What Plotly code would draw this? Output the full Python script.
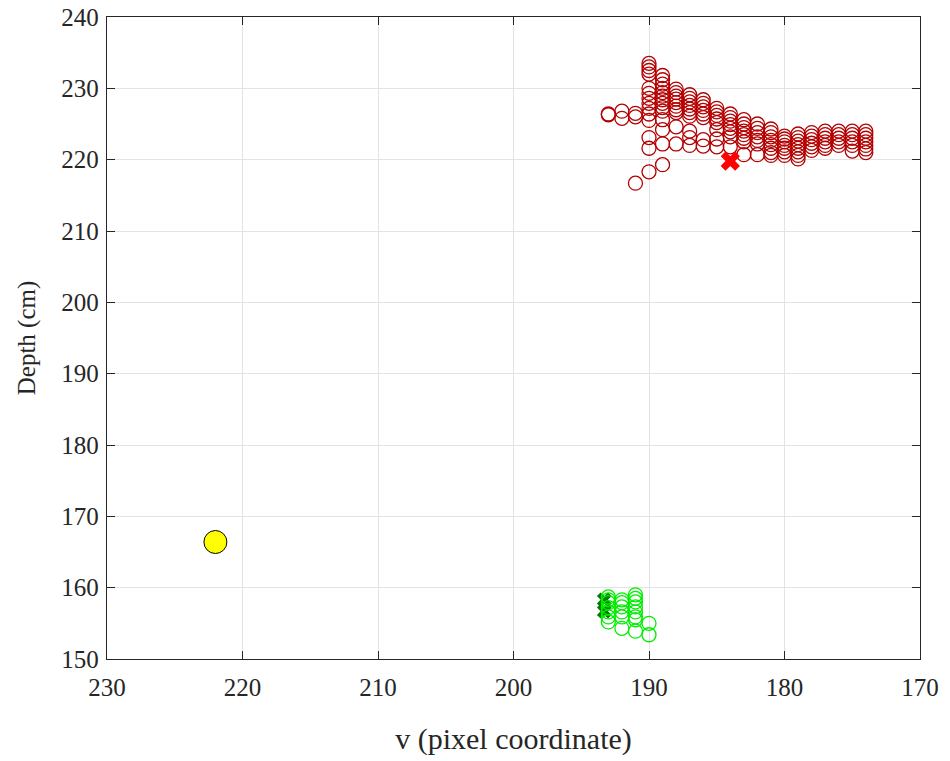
import plotly.graph_objects as go

# ---- data ----
red_cols = [193, 192, 191, 190, 189, 188, 187, 186, 185, 184,
            183, 182, 181, 180, 179, 178, 177, 176, 175, 174]
red_depths = [
    [226.4, 226.3],
    [226.8, 225.8],
    [226.5, 226.0, 216.7],
    [233.5, 233.0, 232.5, 232.0, 230.0, 229.3, 228.6, 227.9, 227.2, 226.4, 225.5, 223.1, 221.6, 218.3],
    [231.8, 231.2, 230.6, 230.0, 229.4, 228.9, 228.4, 227.9, 227.3, 226.8, 225.6, 224.2, 222.2, 219.3],
    [229.9, 229.4, 228.9, 228.5, 228.0, 227.5, 227.0, 226.6, 224.6, 222.2],
    [229.1, 228.6, 228.1, 227.6, 227.1, 226.6, 226.1, 224.0, 223.1, 222.0],
    [228.4, 227.9, 227.4, 226.9, 226.4, 225.9, 222.8, 221.9],
    [227.2, 226.7, 226.2, 225.7, 225.2, 224.2, 222.9, 221.8],
    [226.4, 225.9, 225.4, 224.9, 224.4, 223.9, 223.2, 221.8],
    [225.6, 225.0, 224.5, 224.0, 223.5, 223.0, 222.5, 220.7],
    [225.0, 224.4, 223.8, 223.2, 222.7, 222.2, 220.7],
    [224.3, 223.8, 223.2, 222.7, 222.1, 221.6, 221.0, 220.6],
    [223.3, 222.9, 222.5, 222.0, 221.6, 221.1, 220.6],
    [223.6, 223.1, 222.6, 222.1, 221.6, 221.1, 220.6, 220.1],
    [223.8, 223.3, 222.8, 222.3, 221.8, 221.3],
    [224.0, 223.5, 223.0, 222.5, 222.0, 221.6],
    [224.0, 223.5, 223.0, 222.5, 222.0],
    [224.0, 223.5, 223.0, 222.5, 222.0, 221.2],
    [224.0, 223.5, 223.0, 222.5, 222.0, 221.5, 221.0],
]

green_cols = [193, 192, 191, 190]
green_depths = [
    [158.7, 158.3, 157.9, 157.2, 156.6, 155.9, 155.2],
    [158.3, 157.9, 157.3, 156.6, 155.9, 154.3],
    [159.0, 158.5, 158.0, 157.3, 156.6, 155.9, 155.5, 153.9],
    [155.0, 153.4],
]

red_x_v = [184]
red_x_d = [219.8]
green_x_v = [193.3, 193.3]
green_x_d = [158.3, 156.7]
yellow_v = [222]
yellow_d = [166.4]

x_ticks = [230, 220, 210, 200, 190, 180, 170]
y_ticks = [150, 160, 170, 180, 190, 200, 210, 220, 230, 240]

# ---- flatten ----
rv, rd = [], []
for c, ds in zip(red_cols, red_depths):
    rv += [c] * len(ds)
    rd += ds
gv, gd = [], []
for c, ds in zip(green_cols, green_depths):
    gv += [c] * len(ds)
    gd += ds

fig = go.Figure()
fig.add_trace(go.Scatter(x=rv, y=rd, mode="markers",
                         marker=dict(symbol="circle-open", size=14, color="#b40000",
                                     line=dict(width=1.3, color="#b40000"))))
fig.add_trace(go.Scatter(x=red_x_v, y=red_x_d, mode="markers",
                         marker=dict(symbol="x", size=17, color="#ff0000",
                                     line=dict(width=0))))
fig.add_trace(go.Scatter(x=green_x_v, y=green_x_d, mode="markers",
                         marker=dict(symbol="x", size=13, color="#007a00",
                                     line=dict(width=0))))
fig.add_trace(go.Scatter(x=gv, y=gd, mode="markers",
                         marker=dict(symbol="circle-open", size=14, color="#00ee00",
                                     line=dict(width=1.3, color="#00ee00"))))
fig.add_trace(go.Scatter(x=yellow_v, y=yellow_d, mode="markers",
                         marker=dict(symbol="circle", size=23, color="#ffff00",
                                     line=dict(width=1, color="#000000"))))

font_family = "Liberation Serif"
axis_common = dict(
    showgrid=True, gridcolor="#e3e3e3", gridwidth=1,
    showline=True, linecolor="#262626", linewidth=1.3, mirror="ticks",
    ticks="inside", ticklen=8, tickcolor="#262626", tickwidth=1.3,
    zeroline=False, automargin=False, ticklabeloverflow="allow",
    tickfont=dict(family=font_family, size=25, color="#262626"),
)

fig.update_layout(
    width=950, height=761,
    margin=dict(l=107, r=30, t=17, b=102),
    paper_bgcolor="white", plot_bgcolor="white",
    showlegend=False,
    font=dict(family=font_family, color="#262626"),
    xaxis=dict(range=[230, 170], tickvals=x_ticks, ticklabelstandoff=6,
               title=dict(text="v (pixel coordinate)", font=dict(family=font_family, size=30, color="#262626"),
                          standoff=27),
               **axis_common),
    yaxis=dict(range=[150, 240], tickvals=y_ticks, ticklabelstandoff=2,
               title=dict(text="Depth (cm)", font=dict(family=font_family, size=25, color="#262626"),
                          standoff=18),
               **axis_common),
)

fig.write_html("out.html", config={"displayModeBar": False},
               post_script="document.body.style.margin='0';")
